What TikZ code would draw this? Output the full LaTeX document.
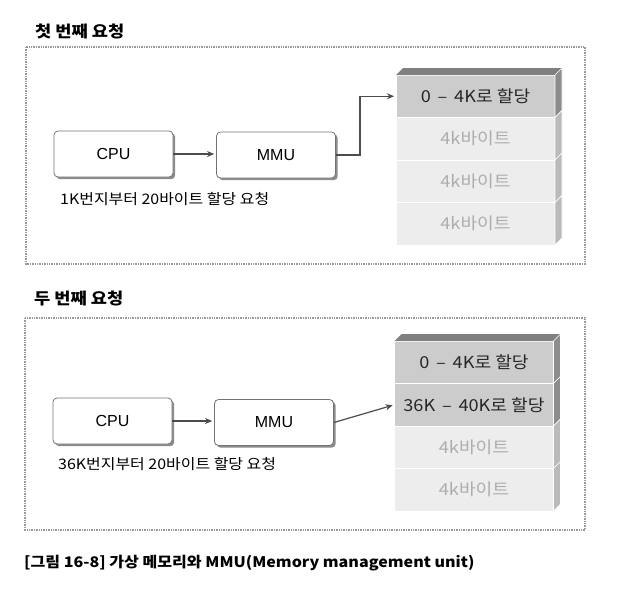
\documentclass[tikz,border=0pt]{standalone}
\usepackage{fontspec}
\setmainfont{Noto Sans CJK KR}[FakeStretch=1.1]
\newfontfamily\latfont{Liberation Sans}
\usetikzlibrary{positioning,shadows,arrows.meta}

\begin{document}
\begin{tikzpicture}[x=1pt,y=-1pt,
    frame/.style={draw=black!40,densely dotted,line width=1.4pt},
    unit/.style={draw=black!55,line width=0.8pt,rounded corners=4pt,fill=white,
      minimum width=119pt,minimum height=46pt,inner sep=0pt,
      font=\latfont\fontsize{16}{19}\selectfont,
      drop shadow={shadow xshift=2.2pt,shadow yshift=-2.2pt,fill=black!45,opacity=1}},
    link/.style={draw=black!70,line width=1.2pt,-{Stealth[length=7pt,width=6pt]},shorten >=2pt},
    cell/.style={minimum width=159pt,minimum height=42.5pt,inner sep=0pt,outer sep=0pt,
      draw=white,line width=0.8pt,font=\fontsize{16.5}{19}\selectfont},
    used/.style={cell,fill=black!20,text=black!85},
    free/.style={cell,fill=black!7,text=black!32},
    sideused/.style={fill=black!45,draw=white,line width=0.6pt},
    sidefree/.style={fill=black!27,draw=white,line width=0.6pt},
    lid/.style={fill=black!50},
    heading/.style={anchor=west,inner sep=0pt,font=\fontsize{16}{19}\selectfont\bfseries},
    note/.style={anchor=west,inner sep=0pt,font=\fontsize{14.5}{17}\selectfont}]
                \useasboundingbox (0,0) rectangle (630,608);

                \node[heading] (t1) at (35,31) {첫 번째 요청};
                \draw[frame] (26,47) rectangle (585,264);
                \node[unit] (cpu1) at (113.5,154) {CPU};
                \node[unit] (mmu1) at (276,155) {MMU};
                \node[note] (req1) at (60,199) {1K번지부터 20바이트 할당 요청};
                \node[used] (a1) at (475.5,96.25) {0 \,–\, 4K로 할당};
                \node[free,below=0pt of a1] (a2) {4k바이트};
                \node[free,below=0pt of a2] (a3) {4k바이트};
                \node[free,below=0pt of a3] (a4) {4k바이트};
                \fill[lid] (a1.north west) -- ++(7,-7) -- ++(159,0) -- (a1.north east) -- cycle;
                \foreach \c/\s in {a1/sideused,a2/sidefree,a3/sidefree,a4/sidefree}
                  \filldraw[\s] (\c.north east) -- ++(7,-7) -- ++(0,42.5) -- (\c.south east) -- cycle;
                \draw[link] (cpu1.east) -- (cpu1.east -| mmu1.west);
                \draw[link] (mmu1.east) -- ++(24,0) |- (a1.west);

                \node[heading] (t2) at (34,298) {두 번째 요청};
                \draw[frame] (25,318) rectangle (585,530);
                \node[unit] (cpu2) at (112.5,421) {CPU};
                \node[unit] (mmu2) at (274,422.5) {MMU};
                \node[note] (req2) at (58,464) {36K번지부터 20바이트 할당 요청};
                \node[used] (b1) at (474,362.25) {0 \,–\, 4K로 할당};
                \node[used,below=0pt of b1] (b2) {36K \,–\, 40K로 할당};
                \node[free,below=0pt of b2] (b3) {4k바이트};
                \node[free,below=0pt of b3] (b4) {4k바이트};
                \fill[lid] (b1.north west) -- ++(7,-7) -- ++(159,0) -- (b1.north east) -- cycle;
                \foreach \c/\s in {b1/sideused,b2/sideused,b3/sidefree,b4/sidefree}
                  \filldraw[\s] (\c.north east) -- ++(7,-7) -- ++(0,42.5) -- (\c.south east) -- cycle;
                \draw[link] (cpu2.east) -- (cpu2.east -| mmu2.west);
                \draw[link] (mmu2.east) -- (b2.west);

                \node[anchor=west,inner sep=0pt,font=\fontsize{14.6}{18}\selectfont\bfseries] (cap) at (24,563)
                  {[그림 16-8] 가상 메모리와 MMU(Memory management unit)};
\end{tikzpicture}
\end{document}
